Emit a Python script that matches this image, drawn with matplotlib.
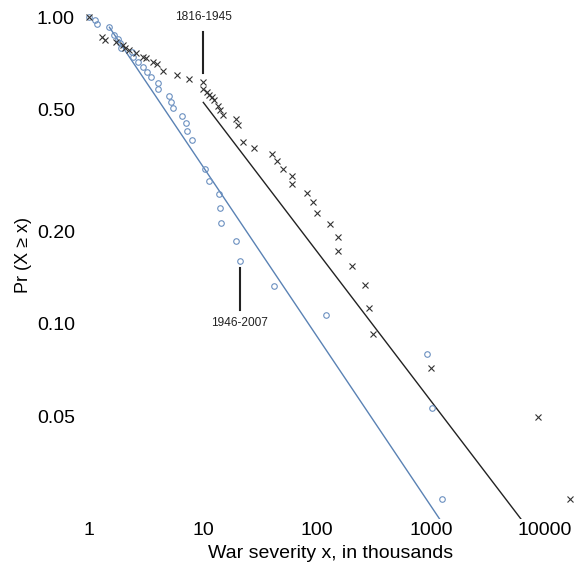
import matplotlib
matplotlib.use("Agg")
import matplotlib.pyplot as plt
import numpy as np

plt.rcParams['font.family'] = ['Liberation Sans', 'DejaVu Sans']

# 1816-1945 wars (x in thousands, Pr(X>=x))
x_old = [1.0, 1.29, 1.38, 1.72, 2.0, 2.07, 2.26, 2.58, 2.96, 3.16, 3.66, 3.97, 4.48, 5.95, 7.54,
         10.0, 10.0, 10.8, 11.4, 11.9, 12.5, 13.6, 14.2, 14.9, 19.5, 20.1, 22.6, 28.0, 40.1, 44.3,
         50.0, 60.4, 60.4, 82.2, 92.9, 100.7, 130, 152, 152, 204, 264, 286, 310, 1006, 8630, 16700]
y_old = [1.0, 0.859, 0.841, 0.827, 0.81, 0.791, 0.781, 0.762, 0.743, 0.734, 0.715, 0.703, 0.667,
         0.647, 0.630, 0.616, 0.581, 0.571, 0.559, 0.548, 0.537, 0.513, 0.498, 0.480, 0.464, 0.445,
         0.392, 0.374, 0.357, 0.339, 0.321, 0.303, 0.285, 0.267, 0.249, 0.230, 0.211, 0.192, 0.173,
         0.154, 0.134, 0.113, 0.0927, 0.0717, 0.0499, 0.0269]

# 1946-2007 wars
x_new = [1.0, 1.13, 1.17, 1.51, 1.66, 1.81, 1.87, 1.91, 2.37, 2.42, 2.67, 2.96, 3.21, 3.50, 4.01,
         4.01, 5.03, 5.24, 5.42, 6.58, 7.05, 7.19, 8.06, 10.5, 11.2, 13.9, 14.0, 14.5, 19.6, 21.1,
         41.7, 121, 917, 1026, 1256]
y_new = [1.0, 0.978, 0.949, 0.926, 0.874, 0.846, 0.821, 0.795, 0.767, 0.743, 0.714, 0.689, 0.661,
         0.636, 0.608, 0.581, 0.554, 0.530, 0.505, 0.477, 0.451, 0.425, 0.398, 0.319, 0.292, 0.266,
         0.239, 0.213, 0.186, 0.160, 0.133, 0.107, 0.080, 0.0534, 0.0269]

# Power-law fits: start point (xmin, P(xmin)), CCDF slope, end x
fit_old = {"xmin": 10.06, "pmin": 0.527, "slope": -0.487, "xmax": 10000}
fit_new = {"xmin": 1.51, "pmin": 0.926, "slope": -0.553, "xmax": 2000}

xticks = [1, 10, 100, 1000, 10000]
xtick_labels = ["1", "10", "100", "1000", "10000"]
yticks = [1.0, 0.5, 0.2, 0.1, 0.05]
ytick_labels = ["1.00", "0.50", "0.20", "0.10", "0.05"]

W, H = 574, 571
fig = plt.figure(figsize=(W / 100, H / 100), dpi=100)
ax_left, ax_right, ax_top, ax_bot = 80, 574, 0, 519.3
ax = fig.add_axes([ax_left / W, 1 - ax_bot / H, (ax_right - ax_left) / W, (ax_bot - ax_top) / H])
ax.set_xscale("log")
ax.set_yscale("log")
# pixel calibration: x=1 at 89 px, 114 px/decade; y=1 at 17 px, 307 px/decade
ax.set_xlim(10 ** ((ax_left - 89) / 114), 10 ** ((ax_right - 89) / 114))
ax.set_ylim(10 ** ((17 - ax_bot) / 307), 10 ** ((17 - ax_top) / 307))

black = "#222222"
blue = "#5a82b4"

for fit, col in ((fit_new, blue), (fit_old, black)):
    xs = np.logspace(np.log10(fit["xmin"]), np.log10(fit["xmax"]), 50)
    ys = fit["pmin"] * (xs / fit["xmin"]) ** fit["slope"]
    ax.plot(xs, ys, color=col, lw=1.0, zorder=2)

ax.plot(x_new, y_new, linestyle="none", marker="o", ms=4.0, mfc="none", mec="#6b90c0", mew=0.8, zorder=3)
ax.plot(x_old, y_old, linestyle="none", marker="x", ms=4.2, color="#333333", mew=0.8, zorder=3)

# annotations
ax.plot([10, 10], [0.894, 0.657], color=black, lw=1.5)
ax.text(10, 1.0, "1816-1945", ha="center", va="center", fontsize=8.6, color=black)
ax.plot([21.1, 21.1], [0.152, 0.111], color=black, lw=1.5)
ax.text(21.1, 0.101, "1946-2007", ha="center", va="center", fontsize=8.6, color=black)

ax.minorticks_off()
ax.set_xticks(xticks, xtick_labels)
ax.set_yticks(yticks, ytick_labels)
ax.tick_params(axis="both", length=0, labelsize=14)
ax.tick_params(axis="x", pad=2)
ax.tick_params(axis="y", pad=3.6)
for s in ax.spines.values():
    s.set_visible(False)

fig.text(331 / W, 1 - 553 / H, "War severity x, in thousands", ha="center", va="center", fontsize=14)
fig.text(23 / W, 1 - 255 / H, "Pr (X \u2265 x)", ha="center", va="center", rotation=90, fontsize=13)

fig.savefig("out.png", dpi=100)
